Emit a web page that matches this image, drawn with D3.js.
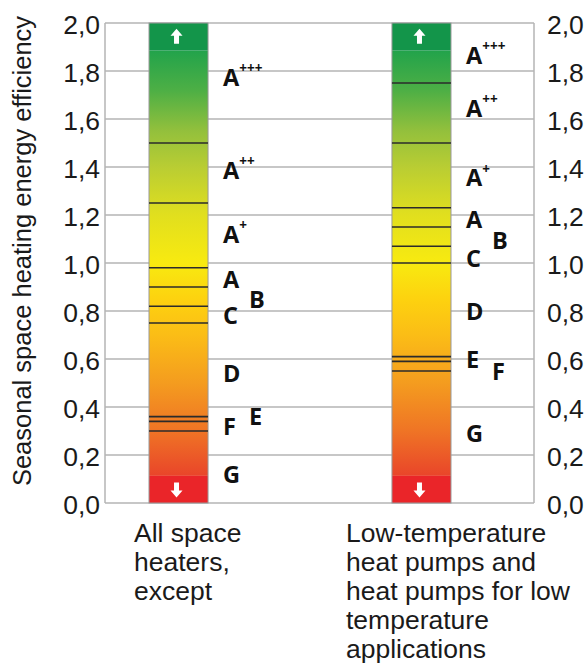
<!DOCTYPE html>
<html>
<head>
<meta charset="utf-8">
<script src="https://cdn.jsdelivr.net/npm/d3@7"></script>
<style>
  html, body { margin: 0; padding: 0; background: #fff; }
  svg { display: block; }
</style>
</head>
<body>
<svg id="chart" width="586" height="665"></svg>
<script>
// ---------------- data ----------------
const categories = ["general", "lowTemp"];
const categoryLabels = [
  ["All space", "heaters,", "except"],
  ["Low-temperature", "heat pumps and", "heat pumps for low", "temperature", "applications"]
];
const classNames = ["A+++", "A++", "A+", "A", "B", "C", "D", "E", "F", "G"];
// class boundaries (seasonal space heating energy efficiency, fraction)
const boundsGeneral = [1.50, 1.25, 0.98, 0.90, 0.82, 0.75, 0.36, 0.34, 0.30];
const boundsLowTemp = [1.75, 1.50, 1.23, 1.15, 1.07, 1.00, 0.61, 0.59, 0.55];
// value at which each class label sits
const labelValueGeneral = [1.775, 1.385, 1.12, 0.93, 0.85, 0.78, 0.54, 0.36, 0.32, 0.12];
const labelValueLowTemp = [1.865, 1.645, 1.355, 1.18, 1.095, 1.02, 0.80, 0.60, 0.55, 0.29];
// labels shifted sideways because their band is narrow
const staggeredGeneral = ["B", "E"];
const staggeredLowTemp = ["B", "F"];
// caps (arrow areas) at top and bottom of the scale
const capTop = 1.885;
const capBottom = 0.113;
const yTicks = [0, 0.2, 0.4, 0.6, 0.8, 1.0, 1.2, 1.4, 1.6, 1.8, 2.0];
const yMax = 2.0;
// colour ramp along the value axis
const rampValues = [1.885, 1.72, 1.55, 1.40, 1.20, 1.00, 0.85, 0.70, 0.50, 0.30, 0.113];
const rampColors = ["#22a34b", "#4daf45", "#93c03c", "#b9cd33", "#e1df1e", "#f8ea10", "#fdd20f", "#fbbd16", "#f49c1f", "#ef7425", "#e9452a"];

const bars = [
  { key: categories[0], bounds: boundsGeneral, labelValues: labelValueGeneral, staggered: staggeredGeneral, label: categoryLabels[0] },
  { key: categories[1], bounds: boundsLowTemp, labelValues: labelValueLowTemp, staggered: staggeredLowTemp, label: categoryLabels[1] }
];

// ---------------- layout ----------------
const svg = d3.select("#chart");
const plot = { left: 105, right: 534, top: 23, bottom: 503 };

const y = d3.scaleLinear().domain([0, yMax]).range([plot.bottom, plot.top]);
const x = d3.scaleBand().domain(categories).range([149, 451]).paddingInner(0.757).paddingOuter(0);

const gridColor = "#b4b4b4";
const textColor = "#1a1a1a";
const fmt = v => d3.format(".1f")(v).replace(".", ",");

// gradient
const defs = svg.append("defs");
const grad = defs.append("linearGradient")
  .attr("id", "ramp")
  .attr("gradientUnits", "userSpaceOnUse")
  .attr("x1", 0).attr("x2", 0)
  .attr("y1", y(capTop)).attr("y2", y(capBottom));
const span = capTop - capBottom;
grad.selectAll("stop").data(rampValues).join("stop")
  .attr("offset", d => (capTop - d) / span)
  .attr("stop-color", (d, i) => rampColors[i]);

// grid lines
svg.append("g").selectAll("line").data(yTicks).join("line")
  .attr("x1", plot.left).attr("x2", plot.right)
  .attr("y1", d => y(d)).attr("y2", d => y(d))
  .attr("stroke", gridColor).attr("stroke-width", 1.5);

// frame sides
svg.append("line").attr("x1", plot.left).attr("x2", plot.left)
  .attr("y1", y(yMax)).attr("y2", y(0)).attr("stroke", gridColor).attr("stroke-width", 1.5);
svg.append("line").attr("x1", plot.right).attr("x2", plot.right)
  .attr("y1", y(yMax)).attr("y2", y(0)).attr("stroke", gridColor).attr("stroke-width", 1.5);

// axes (labels only)
const leftAxis = d3.axisLeft(y).tickValues(yTicks).tickFormat(fmt).tickSize(0).tickPadding(5);
const rightAxis = d3.axisRight(y).tickValues(yTicks).tickFormat(fmt).tickSize(0).tickPadding(13);
const gl = svg.append("g").attr("transform", `translate(${plot.left},2)`).call(leftAxis);
const gr = svg.append("g").attr("transform", `translate(${plot.right},2)`).call(rightAxis);
[gl, gr].forEach(g => {
  g.select(".domain").remove();
  g.selectAll("text")
    .attr("font-family", "'Liberation Sans', Arial, sans-serif")
    .attr("font-size", 26.5)
    .attr("fill", textColor);
});

// y-axis title
svg.append("text")
  .attr("transform", `translate(31,${(plot.top + plot.bottom) / 2 - 12}) rotate(-90)`)
  .attr("text-anchor", "middle")
  .attr("font-family", "'Liberation Sans', Arial, sans-serif")
  .attr("font-size", 25.5)
  .attr("fill", textColor)
  .text("Seasonal space heating energy efficiency");

// bars
const bw = x.bandwidth();
const barG = svg.append("g").selectAll("g").data(bars).join("g");

barG.append("rect")
  .attr("x", d => x(d.key)).attr("width", bw)
  .attr("y", y(capTop)).attr("height", y(capBottom) - y(capTop))
  .attr("fill", "url(#ramp)");
barG.append("rect")
  .attr("x", d => x(d.key)).attr("width", bw)
  .attr("y", y(yMax)).attr("height", y(capTop) - y(yMax))
  .attr("fill", "#13954a");
barG.append("rect")
  .attr("x", d => x(d.key)).attr("width", bw)
  .attr("y", y(capBottom)).attr("height", y(0) - y(capBottom))
  .attr("fill", "#ea2529");
// side borders
barG.append("rect")
  .attr("x", d => x(d.key)).attr("width", bw)
  .attr("y", y(yMax)).attr("height", y(0) - y(yMax))
  .attr("fill", "none").attr("stroke", "#9a9a9a").attr("stroke-width", 1);

// class boundary lines
barG.each(function (d) {
  const g = d3.select(this);
  g.selectAll("line.bound").data(d.bounds).join("line")
    .attr("class", "bound")
    .attr("x1", x(d.key)).attr("x2", x(d.key) + bw)
    .attr("y1", v => y(v)).attr("y2", v => y(v))
    .attr("stroke", "#2b2b2b").attr("stroke-width", 1.6);
});

// arrows
const arrowUp = "M0,-8 L6,-1 L2.5,-1 L2.5,7 L-2.5,7 L-2.5,-1 L-6,-1 Z";
barG.append("path")
  .attr("d", arrowUp)
  .attr("transform", d => `translate(${x(d.key) + bw / 2 - 2},${(y(yMax) + y(capTop)) / 2})`)
  .attr("fill", "#fff");
barG.append("path")
  .attr("d", arrowUp)
  .attr("transform", d => `translate(${x(d.key) + bw / 2 - 2},${(y(capBottom) + y(0)) / 2}) rotate(180)`)
  .attr("fill", "#fff");

// class labels
barG.each(function (d) {
  const g = d3.select(this);
  const x0 = x(d.key) + bw + 15;
  const t = g.selectAll("text.cls").data(classNames).join("text")
    .attr("class", "cls")
    .attr("x", c => d.staggered.includes(c) ? x0 + 26 : x0)
    .attr("y", (c, i) => y(d.labelValues[i]))
    .attr("font-family", "'Open Sans', 'Liberation Sans', sans-serif")
    .attr("font-weight", 700)
    .attr("fill", "#111");
  t.each(function (c) {
    const el = d3.select(this);
    const letter = c[0];
    const sup = c.slice(1);
    el.append("tspan").attr("dy", "0.37em").attr("font-size", 23.5).text(letter);
    if (sup) {
      el.append("tspan").attr("dy", "-0.95em").attr("font-size", 13.5).text(sup);
    }
  });
});

// category labels
const catX = [134, 346];
barG.append("text")
  .attr("font-family", "'Liberation Sans', Arial, sans-serif")
  .attr("font-size", 26.5)
  .attr("fill", textColor)
  .each(function (d, i) {
    d3.select(this).selectAll("tspan").data(d.label).join("tspan")
      .attr("x", catX[i])
      .attr("y", (l, j) => 542 + j * 29)
      .text(l => l);
  });
</script>
</body>
</html>
